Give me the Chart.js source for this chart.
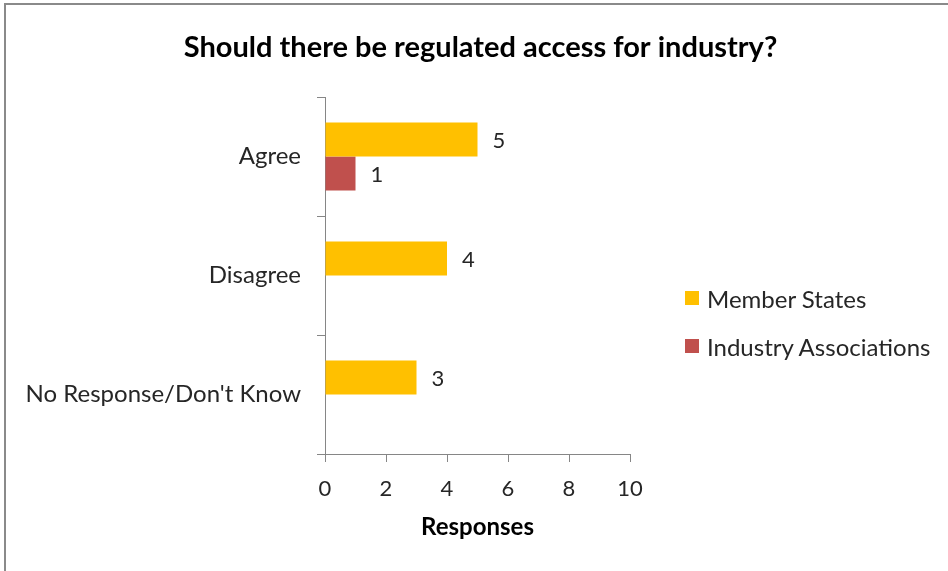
<!DOCTYPE html>
<html>
<head>
<meta charset="utf-8">
<title>Regulated access for industry</title>
<script src="https://cdn.jsdelivr.net/npm/chart.js@4.4.0/dist/chart.umd.min.js"></script>
<style>
  html, body { margin: 0; padding: 0; background: #fff; }
  #wrap { position: relative; width: 948px; height: 571px; overflow: hidden; }
  #legend { position: absolute; left: 685px; top: 274px; margin: 0; padding: 0; list-style: none;
            font-family: Lato, sans-serif; font-size: 24px; color: #262626; }
  #legend li { display: flex; align-items: center; height: 48px; white-space: nowrap; }
  #legend .box { display: inline-block; width: 14px; height: 14px; margin-right: 8px; }
</style>
</head>
<body>
<div id="wrap">
  <canvas id="chart" width="948" height="571"></canvas>
  <ul id="legend"></ul>
</div>
<script>
// answers and counts per respondent group
const categories = ['Agree', 'Disagree', "No Response/Don't Know"];
const memberStates = [5, 4, 3];
const industryAssociations = [1, 0, 0];
const xTicks = [0, 2, 4, 6, 8, 10];

const YELLOW = '#FFC000';
const RED = '#C0504D';
const AXIS = '#868686';
const FONT = 'Lato, sans-serif';

// grey frame along the top and left edges
const frame = {
  id: 'frame',
  beforeDraw(chart) {
    const ctx = chart.ctx;
    ctx.save();
    ctx.strokeStyle = '#8a8a8a';
    ctx.lineWidth = 2;
    ctx.beginPath();
    ctx.moveTo(5, 571);
    ctx.lineTo(5, 4);
    ctx.lineTo(948, 4);
    ctx.stroke();
    ctx.restore();
  }
};

// value next to the end of every non-zero bar
const valueLabels = {
  id: 'valueLabels',
  afterDatasetsDraw(chart) {
    const ctx = chart.ctx;
    ctx.save();
    ctx.font = '22px ' + FONT;
    ctx.fillStyle = '#262626';
    ctx.textAlign = 'left';
    ctx.textBaseline = 'middle';
    chart.data.datasets.forEach((ds, i) => {
      chart.getDatasetMeta(i).data.forEach((bar, j) => {
        const v = ds.data[j];
        if (!v) return;
        ctx.fillText(String(v), bar.x + 15, bar.y + 1);
      });
    });
    ctx.restore();
  }
};

// legend built as html from the chart's own legend items
const htmlLegend = {
  id: 'htmlLegend',
  afterUpdate(chart) {
    const ul = document.getElementById('legend');
    ul.innerHTML = '';
    chart.options.plugins.legend.labels.generateLabels(chart).forEach(item => {
      const li = document.createElement('li');
      const box = document.createElement('span');
      box.className = 'box';
      box.style.background = item.fillStyle;
      li.appendChild(box);
      li.appendChild(document.createTextNode(item.text));
      ul.appendChild(li);
    });
  }
};

const ctx = document.getElementById('chart').getContext('2d');
const chart = new Chart(ctx, {
  type: 'bar',
  data: {
    labels: categories,
    datasets: [
      { label: 'Member States', data: memberStates, backgroundColor: YELLOW },
      { label: 'Industry Associations', data: industryAssociations, backgroundColor: RED }
    ]
  },
  options: {
    indexAxis: 'y',
    responsive: false,
    animation: false,
    categoryPercentage: 0.57,
    barPercentage: 1,
    layout: { padding: { top: 0, left: 13, right: 0, bottom: 29 } },
    plugins: {
      legend: { display: false },
      tooltip: { enabled: false },
      title: {
        display: true,
        text: 'Should there be regulated access for industry?',
        color: '#000',
        font: { family: FONT, size: 29, weight: 'bold' },
        padding: { top: 30, bottom: 32.2 }
      }
    },
    scales: {
      y: {
        type: 'category',
        offset: true,
        grid: { offset: true, drawOnChartArea: false, drawTicks: true, tickLength: 8, color: AXIS },
        border: { display: true, color: AXIS, width: 1 },
        ticks: { color: '#262626', padding: 16, font: { family: FONT, size: 24 } },
        afterFit(scale) { scale.width = 312; }
      },
      // empty right-hand axis that keeps room for the legend
      legendSpace: {
        type: 'linear',
        position: 'right',
        grid: { display: false },
        border: { display: false },
        ticks: { display: false },
        afterFit(scale) { scale.width = 318; }
      },
      x: {
        type: 'linear',
        min: xTicks[0],
        max: xTicks[xTicks.length - 1],
        afterBuildTicks(scale) { scale.ticks = xTicks.map(v => ({ value: v })); },
        grid: { drawOnChartArea: false, drawTicks: true, tickLength: 8, color: AXIS },
        border: { display: true, color: AXIS, width: 1 },
        ticks: { color: '#262626', padding: 14, maxRotation: 0, font: { family: FONT, size: 22 } },
        title: {
          display: true,
          text: 'Responses',
          color: '#000',
          font: { family: FONT, size: 24, weight: 'bold' },
          padding: { top: 12, bottom: 0 }
        },
        afterFit(scale) { scale.height = 88; }
      }
    }
  },
  plugins: [frame, valueLabels, htmlLegend]
});
</script>
</body>
</html>
